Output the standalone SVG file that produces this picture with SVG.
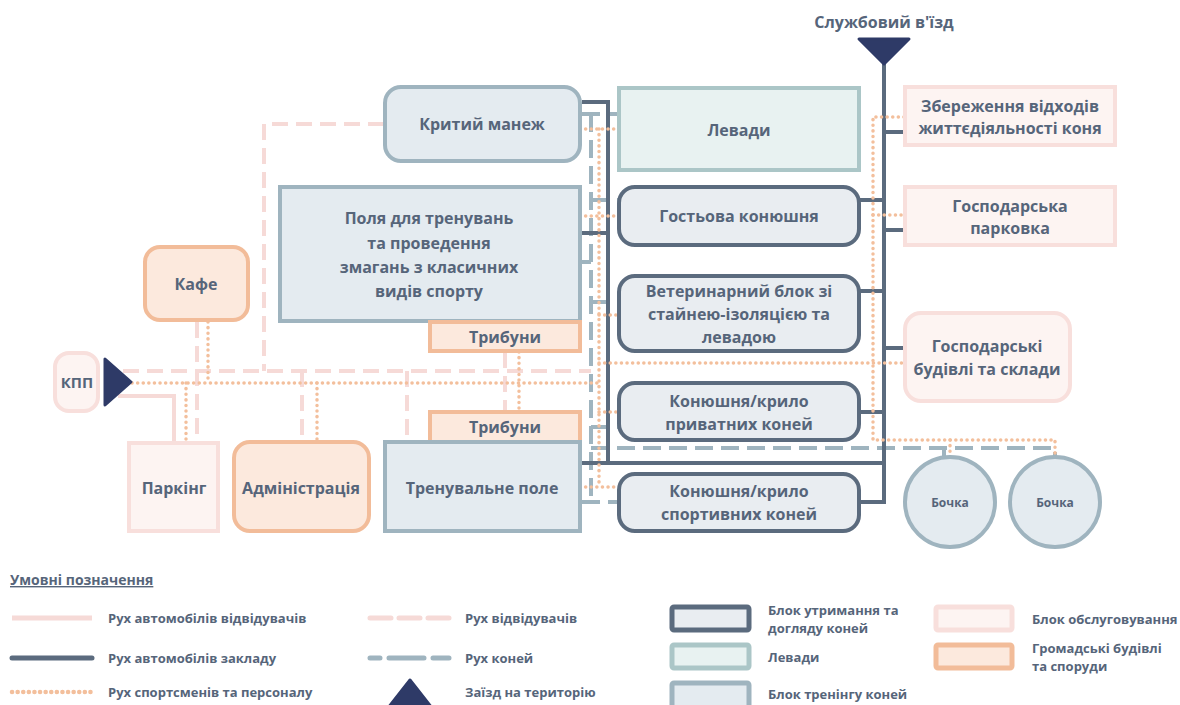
<svg xmlns="http://www.w3.org/2000/svg" width="1180" height="705" viewBox="0 0 1180 705">
<style>
text{font-family:"Open Sans","Noto Sans","DejaVu Sans",sans-serif;font-weight:700;fill:#56657a;text-anchor:middle;font-size:16px}
.lg{font-size:13px;text-anchor:start}
.sm{font-size:12px}
.train{fill:#e4ebf0;stroke:#9fb4bf;stroke-width:4}
.lev{fill:#e8f2f1;stroke:#abc6c7;stroke-width:4}
.keep{fill:#e9edf1;stroke:#5b6b7e;stroke-width:4}
.pub{fill:#fce9dd;stroke:#f2bc99;stroke-width:4}
.serv{fill:#fdf4f2;stroke:#f8dfdc;stroke-width:4}
.carv{fill:none;stroke:#f6dad7;stroke-width:4}
.cars{fill:none;stroke:#5b6b7e;stroke-width:4}
.vis{fill:none;stroke:#f6dad7;stroke-width:4;stroke-dasharray:16 8}
.horse{fill:none;stroke:#9fb4bf;stroke-width:4;stroke-dasharray:18 8}
.staff{fill:none;stroke:#f3bf9c;stroke-width:3.5;stroke-dasharray:0.1 5.5;stroke-linecap:round}
.entry{fill:#2e3a67;stroke:#2e3a67;stroke-width:3;stroke-linejoin:round}
</style>

<g id="connectors">
  <path class="carv" d="M118,396 H174 V441"/>
  <path class="vis" d="M384,124 H264 V371"/>
  <path class="vis" d="M123,371 H591"/>
  <path class="vis" d="M197,322 V441"/>
  <path class="vis" d="M302,371 V441"/>
  <path class="vis" d="M407,371 V441"/>
  <path class="vis" d="M505,352 V411"/>
  <path class="horse" d="M582,114 H619"/>
  <path class="horse" d="M591,114 V502"/>
  <path class="horse" d="M591,200 H619"/>
  <path class="horse" d="M582,262 H591"/>
  <path class="horse" d="M591,302 H619"/>
  <path class="horse" d="M591,427 H619"/>
  <path class="horse" d="M591,448 H1055 V457"/>
  <path class="horse" d="M944,448 V457"/>
  <path class="horse" d="M582,502 H619"/>
  <path class="cars" d="M582,102 H608 V463 H884"/>
  <path class="cars" d="M582,233 H608"/>
  <path class="cars" d="M582,463 H608"/>
  <path class="cars" d="M884,60 V502 H860"/>
  <path class="cars" d="M884,132 H904"/>
  <path class="cars" d="M860,200 H884"/>
  <path class="cars" d="M884,230 H904"/>
  <path class="cars" d="M860,291 H884"/>
  <path class="cars" d="M884,348 H904"/>
  <path class="cars" d="M860,412 H884"/>
  <path class="staff" d="M132,383 H599"/>
  <path class="staff" d="M599,129 V487"/>
  <path class="staff" d="M580,129 H619"/>
  <path class="staff" d="M580,216 H619"/>
  <path class="staff" d="M599,315 H619"/>
  <path class="staff" d="M599,363 H904"/>
  <path class="staff" d="M599,412 H619"/>
  <path class="staff" d="M580,487 H619"/>
  <path class="staff" d="M208,322 V383"/>
  <path class="staff" d="M186,383 V441"/>
  <path class="staff" d="M317,383 V441"/>
  <path class="staff" d="M519,352 V411"/>
  <path class="staff" d="M904,117 H873 V440 H1055 V457"/>
  <path class="staff" d="M873,215 H904"/>
  <path class="staff" d="M950,440 V457"/>
</g>

<g id="service-entry">
  <text x="884" y="28">Службовий в'їзд</text>
  <polygon class="entry" points="859,39 909,39 884,64"/>
</g>

<g id="kryty-manezh"><rect class="train" x="385" y="87" width="195" height="74" rx="16"/><text x="482" y="130">Критий манеж</text></g>
<g id="levady"><rect class="lev" x="619" y="88" width="240" height="82"/><text x="739" y="136">Левади</text></g>
<g id="polia"><rect class="train" x="280" y="187" width="300" height="134"/>
  <text x="429" y="224">Поля для тренувань</text>
  <text x="429" y="249">та проведення</text>
  <text x="429" y="273">змагань з класичних</text>
  <text x="429" y="297">видів спорту</text></g>
<g id="trybuny-1"><rect class="pub" x="430" y="322" width="150" height="29"/><text x="505" y="343">Трибуни</text></g>
<g id="trybuny-2"><rect class="pub" x="430" y="412" width="150" height="30"/><text x="505" y="433">Трибуни</text></g>
<g id="trenuvalne-pole"><rect class="train" x="385" y="442" width="195" height="89"/><text x="482" y="494">Тренувальне поле</text></g>
<g id="kafe"><rect class="pub" x="145" y="247" width="103" height="73" rx="15"/><text x="196" y="290">Кафе</text></g>
<g id="kpp"><rect class="serv" x="55" y="353" width="43" height="58" rx="14"/><text x="77" y="388" style="font-size:15px">КПП</text>
  <polygon class="entry" points="105,359 105,405 131,382"/></g>
<g id="parking"><rect class="serv" x="129" y="443" width="89" height="88"/><text x="174" y="494">Паркінг</text></g>
<g id="administratsiia"><rect class="pub" x="234" y="442" width="135" height="89" rx="16"/><text x="301" y="494">Адміністрація</text></g>
<g id="hostova"><rect class="keep" x="619" y="187" width="240" height="58" rx="16"/><text x="739" y="222">Гостьова конюшня</text></g>
<g id="veteryn"><rect class="keep" x="619" y="276" width="240" height="75" rx="16"/>
  <text x="739" y="297">Ветеринарний блок зі</text>
  <text x="739" y="320">стайнею-ізоляцією та</text>
  <text x="739" y="343">левадою</text></g>
<g id="pryvatni"><rect class="keep" x="619" y="383" width="240" height="57" rx="16"/>
  <text x="739" y="407">Конюшня/крило</text>
  <text x="739" y="430">приватних коней</text></g>
<g id="sportyvni"><rect class="keep" x="619" y="474" width="240" height="57" rx="16"/>
  <text x="739" y="497">Конюшня/крило</text>
  <text x="739" y="520">спортивних коней</text></g>
<g id="vidkhody"><rect class="serv" x="905" y="87" width="210" height="58"/>
  <text x="1010" y="112">Збереження відходів</text>
  <text x="1010" y="134">життєдіяльності коня</text></g>
<g id="parkovka"><rect class="serv" x="905" y="187" width="210" height="58"/>
  <text x="1010" y="212">Господарська</text>
  <text x="1010" y="234">парковка</text></g>
<g id="budivli"><rect class="serv" x="905" y="313" width="165" height="88" rx="16"/>
  <text x="987" y="352">Господарські</text>
  <text x="987" y="375">будівлі та склади</text></g>
<g id="bochka-1"><circle class="train" cx="950" cy="502" r="45"/><text class="sm" x="950" y="507">Бочка</text></g>
<g id="bochka-2"><circle class="train" cx="1055" cy="502" r="45"/><text class="sm" x="1055" y="507">Бочка</text></g>

<g id="legend">
  <text class="lg" x="10" y="585" style="font-size:14px;text-decoration:underline">Умовні позначення</text>
  <line x1="12" y1="618" x2="92" y2="618" stroke="#f6dad7" stroke-width="5"/>
  <text class="lg" x="108" y="623">Рух автомобілів відвідувачів</text>
  <line x1="12" y1="658" x2="92" y2="658" stroke="#5b6b7e" stroke-width="5" stroke-linecap="round"/>
  <text class="lg" x="108" y="663">Рух автомобілів закладу</text>
  <line x1="12" y1="692" x2="92" y2="692" class="staff" style="stroke-width:4.5"/>
  <text class="lg" x="108" y="697">Рух спортсменів та персоналу</text>
  <line x1="370" y1="618" x2="449" y2="618" stroke="#f6dad7" stroke-width="5" stroke-dasharray="21 8" stroke-linecap="round"/>
  <text class="lg" x="465" y="623">Рух відвідувачів</text>
  <path d="M370,658 H380 M389,658 H424 M433,658 H449" stroke="#9fb4bf" stroke-width="5" stroke-linecap="round" fill="none"/>
  <text class="lg" x="465" y="663">Рух коней</text>
  <polygon class="entry" points="410,680 388,708 432,708"/>
  <text class="lg" x="465" y="697">Заїзд на територію</text>
  <rect class="keep" x="672" y="607" width="77" height="23" rx="2" style="stroke-width:5"/>
  <text class="lg" x="768" y="615">Блок утримання та</text>
  <text class="lg" x="768" y="633">догляду коней</text>
  <rect class="lev" x="672" y="645" width="77" height="23" rx="2" style="stroke-width:5"/>
  <text class="lg" x="768" y="662">Левади</text>
  <rect class="train" x="672" y="683" width="77" height="25" rx="2" style="stroke-width:5"/>
  <text class="lg" x="768" y="699">Блок тренінгу коней</text>
  <rect class="serv" x="936" y="607" width="76" height="23" rx="2" style="stroke-width:5"/>
  <text class="lg" x="1032" y="624">Блок обслуговування</text>
  <rect class="pub" x="936" y="645" width="76" height="23" rx="2" style="stroke-width:5"/>
  <text class="lg" x="1032" y="653">Громадські будівлі</text>
  <text class="lg" x="1032" y="671">та споруди</text>
</g>
</svg>
